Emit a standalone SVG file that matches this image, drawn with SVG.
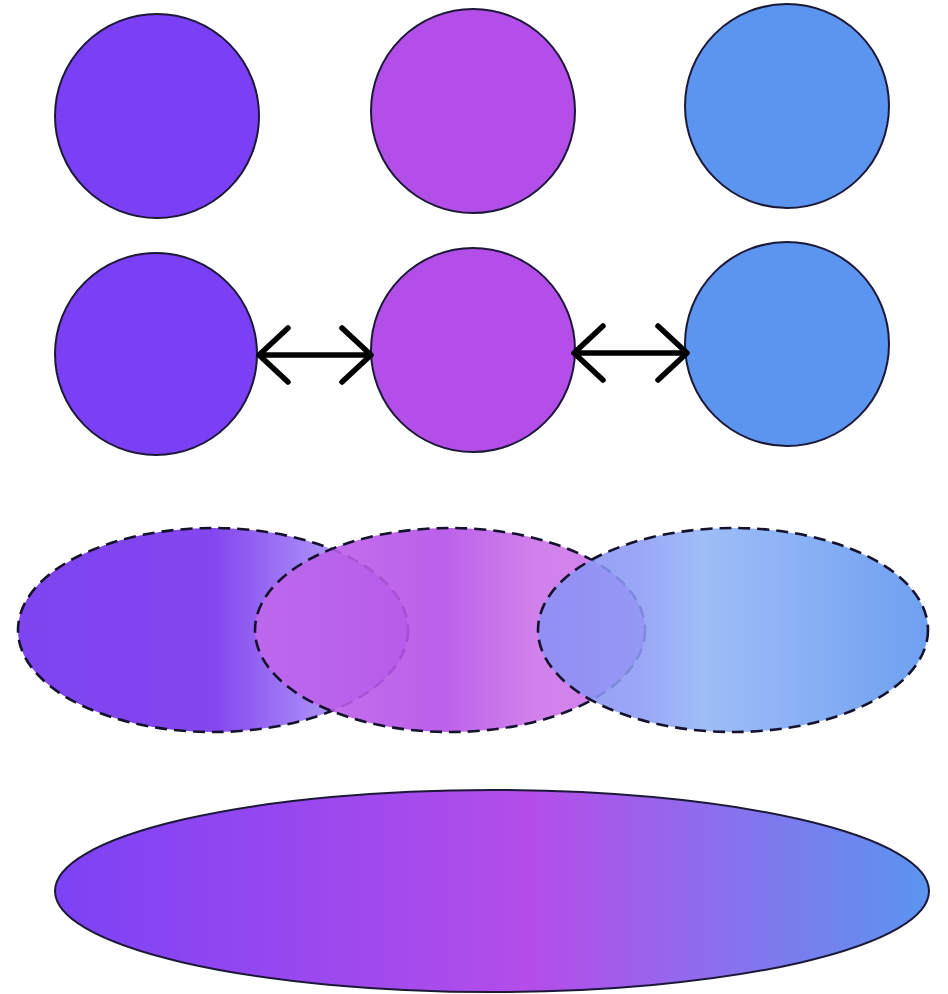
<svg xmlns="http://www.w3.org/2000/svg" width="948" height="994" viewBox="0 0 948 994">
<style>
.node{stroke:#1c1838;stroke-width:2}
.dash{stroke:#15122e;stroke-width:2.6;stroke-dasharray:12 7}
.conn{stroke:#000;stroke-width:5.5;fill:none}
</style>
<defs>
<marker id="chev" markerUnits="userSpaceOnUse" viewBox="-40 -40 50 80" refX="0" refY="0" markerWidth="50" markerHeight="80" orient="auto-start-reverse" overflow="visible">
<path d="M-29,-27 L0,0 L-29,27" fill="none" stroke="#000" stroke-width="5.5" stroke-linecap="round" stroke-linejoin="round"/>
</marker>
<linearGradient id="g1" gradientUnits="userSpaceOnUse" x1="18" y1="0" x2="408" y2="0">
<stop offset="0" stop-color="#7d44f0"/>
<stop offset="0.5" stop-color="#8446ef"/>
<stop offset="0.78" stop-color="#aa8ef7"/>
<stop offset="1" stop-color="#c4a4f5"/>
</linearGradient>
<linearGradient id="g2" gradientUnits="userSpaceOnUse" x1="255" y1="0" x2="645" y2="0">
<stop offset="0" stop-color="#c068ec"/>
<stop offset="0.48" stop-color="#b44fe8"/>
<stop offset="0.72" stop-color="#cc74e9"/>
<stop offset="1" stop-color="#cd76e9"/>
</linearGradient>
<linearGradient id="g3" gradientUnits="userSpaceOnUse" x1="538" y1="0" x2="928" y2="0">
<stop offset="0" stop-color="#8a90f5"/>
<stop offset="0.26" stop-color="#8c9af5"/>
<stop offset="0.42" stop-color="#92b4f6"/>
<stop offset="1" stop-color="#5b93ef"/>
</linearGradient>
<linearGradient id="g4" gradientUnits="userSpaceOnUse" x1="55" y1="0" x2="930" y2="0">
<stop offset="0" stop-color="#7c42f5"/>
<stop offset="0.55" stop-color="#b44ee9"/>
<stop offset="1" stop-color="#5b95f0"/>
</linearGradient>
</defs>
<g id="c1"><circle class="node" cx="157" cy="116" r="102" fill="#7b40f5"/></g>
<g id="c2"><circle class="node" cx="473" cy="111" r="102" fill="#b44ee9"/></g>
<g id="c3"><circle class="node" cx="787" cy="106" r="102" fill="#5b95f0"/></g>
<g id="d1"><circle class="node" cx="156" cy="354" r="101" fill="#7b40f5"/></g>
<g id="d2"><circle class="node" cx="473" cy="350" r="102" fill="#b44ee9"/></g>
<g id="d3"><circle class="node" cx="787" cy="344" r="102" fill="#5b95f0"/></g>
<g id="connectors">
<line class="conn" x1="259" y1="355" x2="371" y2="355" marker-start="url(#chev)" marker-end="url(#chev)"/>
<line class="conn" x1="574" y1="353" x2="687" y2="353" marker-start="url(#chev)" marker-end="url(#chev)"/>
</g>
<g id="e1"><ellipse class="dash" cx="213" cy="630" rx="195" ry="102" fill="url(#g1)"/></g>
<g id="e2"><ellipse class="dash" cx="450" cy="630" rx="195" ry="102" fill="url(#g2)" fill-opacity="0.9"/></g>
<g id="e3"><ellipse class="dash" cx="733" cy="630" rx="195" ry="102" fill="url(#g3)" fill-opacity="0.88"/></g>
<g id="bottom"><ellipse class="node" cx="492" cy="891" rx="437" ry="101" fill="url(#g4)"/></g>
</svg>
